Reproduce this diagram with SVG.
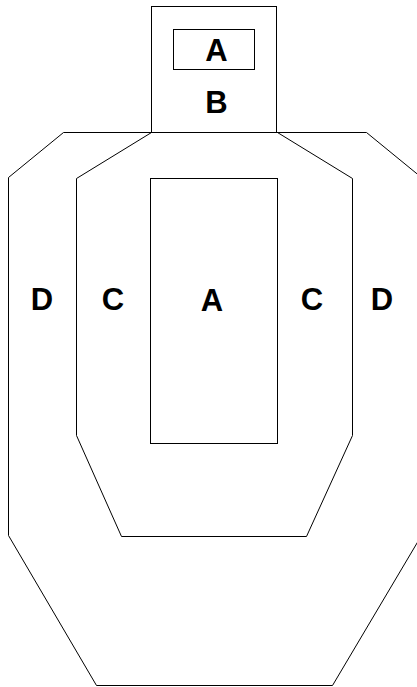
<svg xmlns="http://www.w3.org/2000/svg" width="417" height="687" viewBox="0 0 417 687">
<style>
.z{fill:none;stroke:#000;stroke-width:1}
.t{font-family:"Liberation Sans",Arial,sans-serif;font-weight:bold;font-size:31px;text-anchor:middle;fill:#000}
</style>
<rect width="417" height="687" fill="#fff"/>
<g id="zone-D">
<polygon class="z" points="63.5,132.5 366.5,132.5 421.5,177.5 421.5,535.5 332.5,685.5 96.5,685.5 8.5,535.5 8.5,177.5"/>
<text class="t" x="42" y="310">D</text>
<text class="t" x="382" y="310">D</text>
</g>
<g id="zone-C">
<polygon class="z" points="151.5,132.5 277.5,132.5 352.5,178.5 352.5,435.5 306.5,536.5 121.5,536.5 76.5,435.5 76.5,178.5"/>
<text class="t" x="113" y="310">C</text>
<text class="t" x="312" y="310">C</text>
</g>
<g id="zone-A-body">
<rect class="z" x="150.5" y="178.5" width="127" height="265"/>
<text class="t" x="212" y="311">A</text>
</g>
<g id="zone-B-head">
<rect class="z" x="151.5" y="6.5" width="125" height="126"/>
<text class="t" x="216.5" y="113">B</text>
</g>
<g id="zone-A-head">
<rect class="z" x="173.5" y="29.5" width="81" height="40"/>
<text class="t" x="216.5" y="61">A</text>
</g>
</svg>
